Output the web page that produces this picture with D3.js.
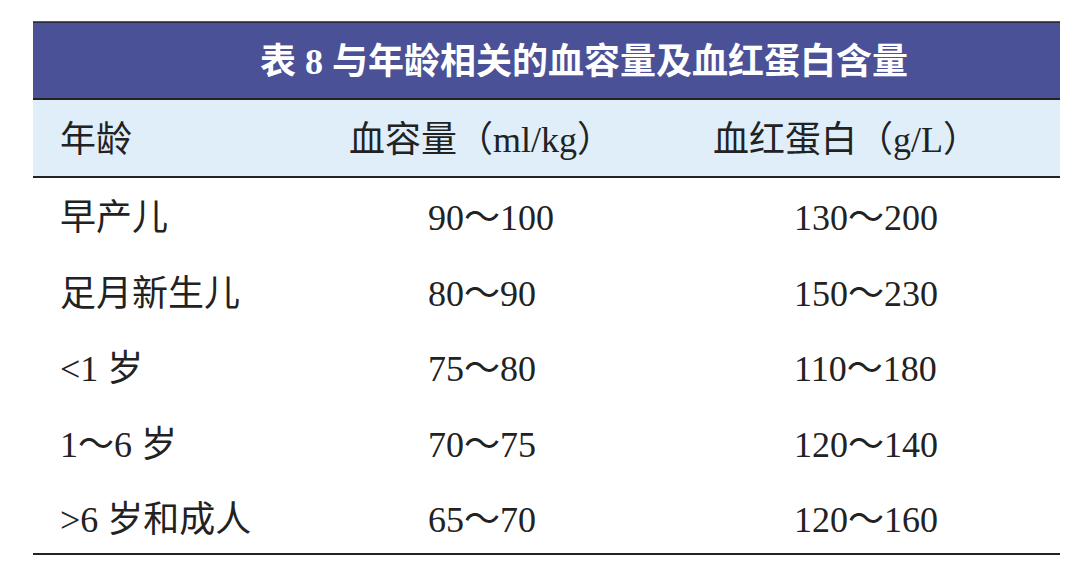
<!DOCTYPE html>
<html><head><meta charset="utf-8">
<script src="https://cdn.jsdelivr.net/npm/d3@7"></script>
<style>body{margin:0;background:#fff}</style>
</head><body>
<svg id="tbl" width="1080" height="569"></svg>
<script>
var title = "表 8 与年龄相关的血容量及血红蛋白含量";
var headers = ["年龄", "血容量（ml/kg）", "血红蛋白（g/L）"];
var ages = ["早产儿", "足月新生儿", "<1 岁", "1～6 岁", ">6 岁和成人"];
var bloodVolume = ["90～100", "80～90", "75～80", "70～75", "65～70"];
var hemoglobin = ["130～200", "150～230", "110～180", "120～140", "120～160"];

var svg = d3.select("#tbl");
var font = "'Liberation Serif','Noto Sans CJK SC',serif";
var left = 33, right = 1060;

var y = d3.scaleBand().domain(d3.range(ages.length)).range([178, 555]);

svg.append("rect").attr("x", left).attr("y", 22).attr("width", right - left).attr("height", 77).attr("fill", "#4a5197");
svg.append("rect").attr("x", left).attr("y", 99).attr("width", right - left).attr("height", 78).attr("fill", "#dfeef9");
[22, 99, 177, 554].forEach(function(v, i) {
  svg.append("line").attr("x1", left).attr("x2", right).attr("y1", v).attr("y2", v)
    .attr("stroke", "#222").attr("stroke-width", i == 0 ? 1.5 : 2);
});

svg.append("text").attr("x", 584).attr("y", 61).attr("dy", ".35em").attr("text-anchor", "middle")
  .attr("fill", "#fff").attr("font-family", font).attr("font-size", 36).attr("font-weight", "bold").text(title);

var headX = [60, 481, 846], headAnchor = ["start", "middle", "middle"];
svg.selectAll("text.h").data(headers).enter().append("text").attr("class", "h")
  .attr("x", function(d, i) { return headX[i]; }).attr("y", 139).attr("dy", ".35em")
  .attr("text-anchor", function(d, i) { return headAnchor[i]; })
  .attr("font-family", font).attr("font-size", 36).attr("fill", "#222").text(function(d) { return d; });

var colX = [60, 428, 794];
[ages, bloodVolume, hemoglobin].forEach(function(col, c) {
  svg.selectAll("text.c" + c).data(col).enter().append("text").attr("class", "c" + c)
    .attr("x", colX[c]).attr("y", function(d, i) { return y(i) + y.bandwidth() / 2 + 2; }).attr("dy", ".35em")
    .attr("text-anchor", "start").attr("font-family", font).attr("font-size", 36).attr("fill", "#222")
    .text(function(d) { return d; });
});
</script>
</body></html>
